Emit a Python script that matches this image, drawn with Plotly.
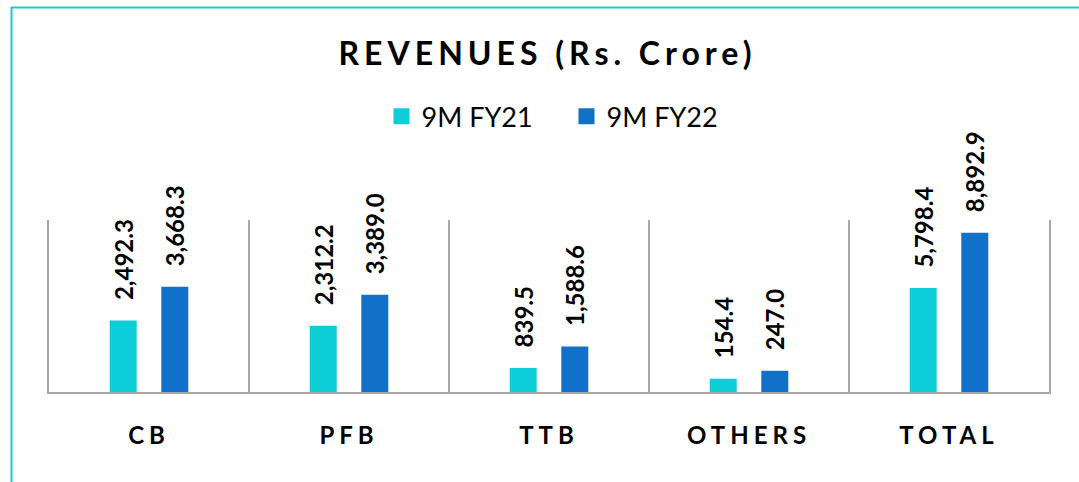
import plotly.graph_objects as go

# values in Rs. crore
segments = ['CB', 'PFB', 'TTB', 'OTHERS', 'TOTAL']
fy21 = [2492.3, 2312.2, 839.5, 154.4, 5798.4]
fy22 = [3668.3, 3389.0, 1588.6, 247.0, 8892.9]
series_names = ['9M FY21', '9M FY22']
colors = ['#0DCDD6', '#1170C8']

# the source chart draws segments, OTHERS and TOTAL on their own hidden scales
axis_of = {'CB': 'y', 'PFB': 'y', 'TTB': 'y', 'OTHERS': 'y3', 'TOTAL': 'y2'}

FONT = 'Lato'
fig = go.Figure()

for vals, name, col, off in zip([fy21, fy22], series_names, colors, [-0.1965, 0.0615]):
    for ax in ['y', 'y3', 'y2']:
        xs = [s for s in segments if axis_of[s] == ax]
        ys = [v for s, v in zip(segments, vals) if axis_of[s] == ax]
        fig.add_trace(go.Bar(
            x=xs, y=ys, yaxis=ax, name=name, showlegend=False,
            marker=dict(color=col, line=dict(width=0)),
            width=0.135, offset=off,
            texttemplate='\u00a0\u00a0\u00a0%{y:,.1f}', textposition='outside', textangle=-90,
            textfont=dict(family=FONT, size=24, color='black', weight='bold'),
            constraintext='none', cliponaxis=False,
        ))
    # legend entry
    fig.add_trace(go.Scatter(x=[None], y=[None], mode='markers', name=name,
                             marker=dict(symbol='square', size=18, color=col)))

fig.update_layout(
    width=1079, height=482,
    margin=dict(l=49, r=30, t=220, b=90),
    paper_bgcolor='white', plot_bgcolor='white',
    barmode='overlay',
    title=dict(text='REVENUES (Rs. Crore)', x=0.4985, xref='paper', xanchor='center',
               y=0.888, yref='container', yanchor='middle',
               font=dict(family=FONT, size=32, color='black', weight='bold')),
    legend=dict(orientation='h', x=0.5175, xanchor='center', y=1.60, yanchor='middle',
                font=dict(family=FONT, size=27, color='black'), entrywidth=140),
    xaxis=dict(type='category', categoryorder='array', categoryarray=segments,
               range=[-0.5, 4.5], tickson='boundaries', showgrid=True,
               gridcolor='#A6A6A6', gridwidth=1.5, showline=True, linecolor='#A6A6A6',
               linewidth=1.5, ticks='', ticklabelstandoff=21,
               tickfont=dict(family=FONT, size=24, color='black', weight='bold')),
    yaxis=dict(range=[0, 6000], showgrid=False, zeroline=False, showticklabels=False,
               showline=True, mirror=True, linecolor='#A6A6A6', linewidth=1.5),
    yaxis2=dict(range=[0, 9600], overlaying='y', visible=False),
    yaxis3=dict(range=[0, 2000], overlaying='y', visible=False),
    shapes=[dict(type='rect', xref='paper', yref='paper', x0=-0.0375, x1=1.2,
                 y0=-1, y1=2.235, line=dict(color='#1FC9D4', width=2))],
)

spacing_js = """
document.body.style.margin = '0';
var gd = document.getElementById('{plot_id}');
gd.querySelectorAll('.xtick text').forEach(function(t){ t.style.letterSpacing = '5px'; });
var tt = gd.querySelector('.gtitle'); if (tt) { tt.style.letterSpacing = '5px'; }
"""

fig.write_html("out.html", post_script=spacing_js, config={'displayModeBar': False})
